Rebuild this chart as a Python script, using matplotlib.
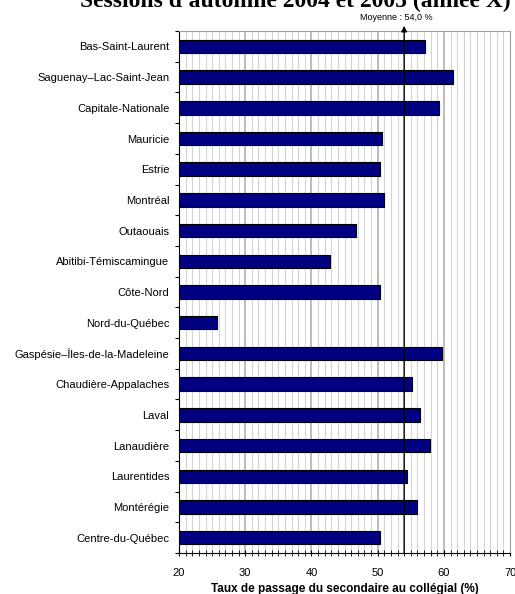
import matplotlib
matplotlib.use('Agg')
import matplotlib.pyplot as plt
import numpy as np
from matplotlib.ticker import MultipleLocator

regions = ['Bas-Saint-Laurent', 'Saguenay\u2013Lac-Saint-Jean', 'Capitale-Nationale', 'Mauricie',
           'Estrie', 'Montréal', 'Outaouais', 'Abitibi-Témiscamingue', 'Côte-Nord',
           'Nord-du-Québec', 'Gaspésie\u2013Îles-de-la-Madeleine', 'Chaudière-Appalaches',
           'Laval', 'Lanaudière', 'Laurentides', 'Montérégie', 'Centre-du-Québec']
taux = [57.2, 61.4, 59.3, 50.6, 50.3, 50.9, 46.7, 42.8, 50.3, 25.7, 59.7,
        55.2, 56.4, 57.9, 54.5, 56.0, 50.3]
moyenne = 54.0

plt.rcParams['font.family'] = ['Liberation Sans', 'DejaVu Sans']

fig = plt.figure(figsize=(5.15, 5.94), dpi=100)
ax = fig.add_axes([0.3476, 0.0690, 0.6429, 0.8787])

y = np.arange(len(regions))
# grid: fine lines each unit, darker every 10
for v in range(21, 70):
    ax.axvline(v, color='#d4d4d4' if v % 10 else '#b0b0b0', lw=0.8 if v % 10 else 1.2, zorder=0)

ax.barh(y, taux, height=0.44, left=0, color='#000080', edgecolor='black', lw=0.8, zorder=2)

ax.set_xlim(20, 70)
ax.set_ylim(len(regions) - 0.5, -0.5)
ax.set_yticks(y)
ax.set_yticklabels(regions, fontsize=8)
ax.set_yticks(np.arange(len(regions) + 1) - 0.5, minor=True)
ax.tick_params(axis='y', which='major', length=0, pad=7)
ax.tick_params(axis='y', which='minor', length=3, direction='out', width=0.8)

ax.xaxis.set_major_locator(MultipleLocator(10))
ax.xaxis.set_minor_locator(MultipleLocator(1))
ax.tick_params(axis='x', which='major', direction='inout', length=5, labelsize=8, pad=8)
ax.tick_params(axis='x', which='minor', direction='inout', length=4)
ax.set_xlabel('Taux de passage du secondaire au collégial (%)', fontsize=8.5, fontweight='bold', labelpad=4)

for side in ['top', 'right']:
    ax.spines[side].set_color('#a0a0a0')
ax.spines['left'].set_color('black')
ax.spines['bottom'].set_color('black')

# mean line with arrow
ax.annotate('', xy=(moyenne, 1.01), xycoords=('data', 'axes fraction'),
            xytext=(moyenne, 0), textcoords=('data', 'axes fraction'),
            arrowprops=dict(arrowstyle='-|>', color='black', lw=1, mutation_scale=8,
                            shrinkA=0, shrinkB=0), zorder=5)
ax.text(52.8, 1.018, 'Moyenne : 54,0 %', transform=ax.get_xaxis_transform(),
        ha='center', va='bottom', fontsize=6.5)

fig.text(0.573, 1 - 7 / 594, "Sessions d'automne 2004 et 2005 (année X)", ha='center', va='baseline',
         fontsize=17, fontweight='bold', family=['Liberation Serif', 'DejaVu Serif'])

fig.savefig('out.png', dpi=100)
